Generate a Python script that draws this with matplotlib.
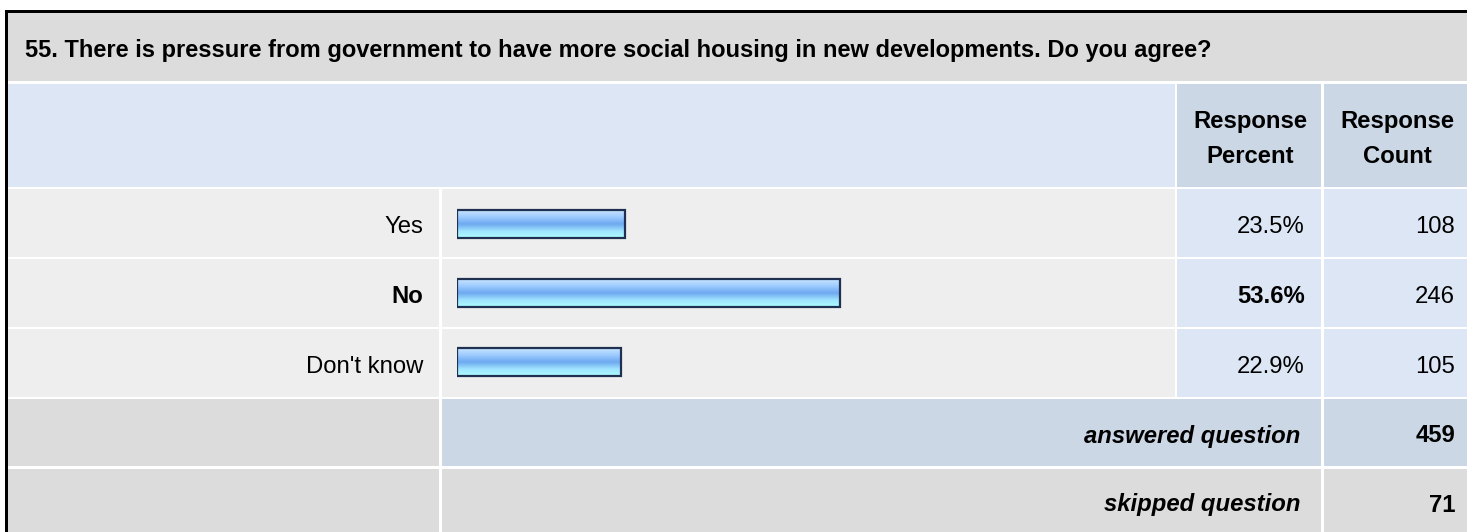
import numpy as np
import matplotlib
matplotlib.use("Agg")
import matplotlib.pyplot as plt
from matplotlib.patches import Rectangle
from matplotlib.colors import LinearSegmentedColormap

plt.rcParams['font.family'] = ['Liberation Sans', 'DejaVu Sans']

# data
question = "55. There is pressure from government to have more social housing in new developments. Do you agree?"
answers = ["Yes", "No", "Don't know"]
percents = [23.5, 53.6, 22.9]
counts = [108, 246, 105]
answered = 459
skipped = 71

W, H = 1467, 532
fig = plt.figure(figsize=(W / 100, H / 100), dpi=100)
ax = fig.add_axes([0, 0, 1, 1])
ax.set_xlim(0, W)
ax.set_ylim(H, 0)
ax.axis("off")

GREY = "#dcdcdc"
LIGHT = "#eeeeee"
BLUE = "#dce6f4"
BLUE2 = "#cbd7e5"
FS = 17.2

def cell(x0, x1, y0, y1, c):
    ax.add_patch(Rectangle((x0, y0), x1 - x0, y1 - y0, facecolor=c, edgecolor="none"))

# outer border
cell(5, W, 10, 13, "black")
cell(5, 8, 10, H, "black")

# title row
cell(8, W, 13, 81, GREY)
ax.text(25, 56.5, question, fontsize=17.0, fontweight="bold", ha="left", va="baseline")

# header row
cell(8, 1175, 84, 187, BLUE)
cell(1177, 1321, 84, 187, BLUE2)
cell(1324, W, 84, 187, BLUE2)
for cx, word in [(1250, "Percent"), (1397, "Count")]:
    ax.text(cx, 128, "Response", fontsize=FS, fontweight="bold", ha="center", va="baseline")
    ax.text(cx, 163, word, fontsize=FS, fontweight="bold", ha="center", va="baseline")

rows = [(189, 257), (259, 327), (329, 397)]
top_pct = max(percents)
for (y0, y1), lab, p, n in zip(rows, answers, percents, counts):
    cell(8, 439, y0, y1, LIGHT)
    cell(442, 1175, y0, y1, LIGHT)
    cell(1177, 1321, y0, y1, BLUE)
    cell(1324, W, y0, y1, BLUE)
    yb = (y0 + y1) / 2 + 10
    wt = "bold" if p == top_pct else "normal"
    ax.text(423, yb, lab, fontsize=FS, fontweight=wt, ha="right", va="baseline")
    ax.text(1305, yb, f"{p}%", fontsize=FS, fontweight=wt, ha="right", va="baseline")
    ax.text(1455, yb, str(n), fontsize=FS, ha="right", va="baseline")

# answered / skipped
cell(8, 439, 399, 466, GREY)
cell(442, 1321, 399, 466, BLUE2)
cell(1324, W, 399, 466, BLUE2)
cell(8, 439, 469, H, GREY)
cell(442, 1321, 469, H, GREY)
cell(1324, W, 469, H, GREY)
ax.text(1300, 442.5, "answered question", fontsize=FS, fontweight="bold", style="italic",
        ha="right", va="baseline")
ax.text(1455, 442.5, str(answered), fontsize=FS, fontweight="bold", ha="right", va="baseline")
ax.text(1300, 511.5, "skipped question", fontsize=FS, fontweight="bold", style="italic",
        ha="right", va="baseline")
ax.text(1455, 511.5, str(skipped), fontsize=FS, fontweight="bold", ha="right", va="baseline")

# bar axes: x in percent
bx = fig.add_axes([457 / W, 1 - 397 / H, 714 / W, (397 - 189) / H])
bx.set_xlim(0, 100)
bx.set_ylim(len(answers) - 0.5, -0.5)
bx.axis("off")
bx.patch.set_alpha(0)

cmap = LinearSegmentedColormap.from_list(
    "bar", [(0, "#c8e4ff"), (0.25, "#9ccbff"), (0.5, "#6ea8f0"), (0.75, "#9ee4ff"), (1, "#aefcff")])
grad = np.linspace(0, 1, 64).reshape(-1, 1)
bh = 0.40
bars = bx.barh(range(len(answers)), percents, height=bh, facecolor="none",
               edgecolor="#1f3050", linewidth=1.6, zorder=3)
for i, (b, p) in enumerate(zip(bars, percents)):
    im = bx.imshow(grad, cmap=cmap, aspect="auto", extent=(0, p, i + bh / 2, i - bh / 2),
                   zorder=2)
    im.set_clip_path(b)

fig.savefig("out.png", dpi=100)
